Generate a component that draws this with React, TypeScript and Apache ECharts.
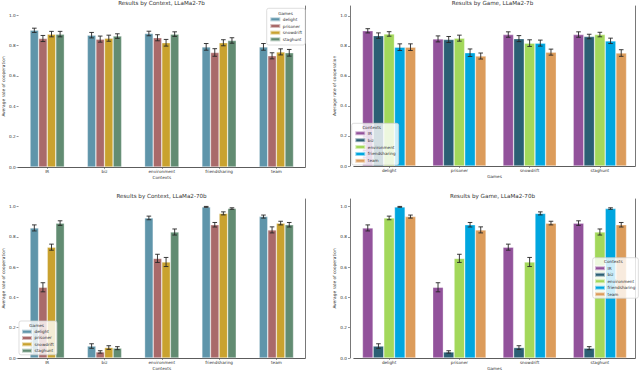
import React, { useEffect, useRef } from "react";
import * as echarts from "echarts";

const contexts = ["IR", "biz", "environment", "friendsharing", "team"];
const games = ["delight", "prisoner", "snowdrift", "staghunt"];
const yTicks = [0, 0.2, 0.4, 0.6, 0.8, 1.0];

const gameColors = ["#5f95aa", "#a96a6a", "#c9a22f", "#628c72"];
const contextColors = ["#92529b", "#2b5f74", "#a3d85b", "#00a6df", "#dc9c5b"];

// LLaMa2-7b: rows = contexts, columns = games (delight, prisoner, snowdrift, staghunt)
const rate7bIR = [0.9, 0.846, 0.875, 0.875];
const rate7bBiz = [0.868, 0.842, 0.848, 0.862];
const rate7bEnv = [0.879, 0.851, 0.818, 0.875];
const rate7bFriend = [0.791, 0.754, 0.818, 0.833];
const rate7bTeam = [0.791, 0.732, 0.758, 0.752];
const err7bIR = [0.014, 0.02, 0.018, 0.018];
const err7bBiz = [0.018, 0.02, 0.02, 0.015];
const err7bEnv = [0.015, 0.02, 0.022, 0.015];
const err7bFriend = [0.022, 0.025, 0.02, 0.018];
const err7bTeam = [0.022, 0.02, 0.02, 0.022];

// LLaMa2-70b
const rate70bIR = [0.859, 0.467, 0.732, 0.891];
const rate70bBiz = [0.079, 0.04, 0.069, 0.065];
const rate70bEnv = [0.925, 0.658, 0.634, 0.832];
const rate70bFriend = [0.998, 0.88, 0.955, 0.987];
const rate70bTeam = [0.934, 0.846, 0.891, 0.88];
const err70bIR = [0.02, 0.03, 0.02, 0.015];
const err70bBiz = [0.015, 0.008, 0.012, 0.01];
const err70bEnv = [0.012, 0.027, 0.03, 0.02];
const err70bFriend = [0.003, 0.015, 0.01, 0.005];
const err70bTeam = [0.01, 0.02, 0.012, 0.015];

const rows7b = [rate7bIR, rate7bBiz, rate7bEnv, rate7bFriend, rate7bTeam];
const errs7b = [err7bIR, err7bBiz, err7bEnv, err7bFriend, err7bTeam];
const rows70b = [rate70bIR, rate70bBiz, rate70bEnv, rate70bFriend, rate70bTeam];
const errs70b = [err70bIR, err70bBiz, err70bEnv, err70bFriend, err70bTeam];

const FONT = "DejaVu Sans";
const TXT = "#333";
const SPINE = "#555";

type Panel = {
  grid: { left: number; top: number; width: number; height: number };
  cats: string[];
  names: string[];
  colors: string[];
  val: (si: number, ci: number) => number;
  err: (si: number, ci: number) => number;
  gap: number;
  max: number;
  xName: string;
  title: string;
  yOffset: number;
  leftSpine: boolean;
  legend: { left: number; top: number; padding: number[]; lh: number; title: string; tx: number; ty: number };
};

const panels: Panel[] = [
  {
    grid: { left: 18, top: 6, width: 287, height: 161 },
    cats: contexts,
    names: games,
    colors: gameColors,
    val: (si, ci) => rows7b[ci][si],
    err: (si, ci) => errs7b[ci][si],
    gap: 0.4,
    max: 1.06,
    xName: "Contexts",
    title: "Results by Context, LLaMa2-7b",
    yOffset: 0,
    leftSpine: false,
    legend: { left: 266.7, top: 8.3, padding: [7.7, 3, 2.3, 2.6], lh: 6.67, title: "Games", tx: 285.5, ty: 13.3 },
  },
  {
    grid: { left: 354, top: 6, width: 281, height: 160 },
    cats: games,
    names: contexts,
    colors: contextColors,
    val: (si, ci) => rows7b[si][ci],
    err: (si, ci) => errs7b[si][ci],
    gap: 0.24,
    max: 1.065,
    xName: "Games",
    title: "Results by Game, LLaMa2-7b",
    yOffset: 4,
    leftSpine: true,
    legend: { left: 351.7, top: 123.3, padding: [6.5, 3, 0.7, 2.6], lh: 6.9, title: "Contexts", tx: 371.7, ty: 127.3 },
  },
  {
    grid: { left: 18, top: 199, width: 287, height: 159 },
    cats: contexts,
    names: games,
    colors: gameColors,
    val: (si, ci) => rows70b[ci][si],
    err: (si, ci) => errs70b[ci][si],
    gap: 0.4,
    max: 1.05,
    xName: "Contexts",
    title: "Results by Context, LLaMa2-70b",
    yOffset: 0,
    leftSpine: false,
    legend: { left: 19, top: 321, padding: [7.5, 3, 1, 2], lh: 6.33, title: "Games", tx: 36.7, ty: 325.7 },
  },
  {
    grid: { left: 354, top: 199, width: 281, height: 159 },
    cats: games,
    names: contexts,
    colors: contextColors,
    val: (si, ci) => rows70b[si][ci],
    err: (si, ci) => errs70b[si][ci],
    gap: 0.24,
    max: 1.05,
    xName: "Games",
    title: "Results by Game, LLaMa2-70b",
    yOffset: 4,
    leftSpine: true,
    legend: { left: 592.7, top: 257.7, padding: [7.3, 3, 0.7, 1.3], lh: 6.5, title: "Contexts", tx: 613.3, ty: 261.7 },
  },
];

function buildOption() {
  const grid: any[] = [];
  const xAxis: any[] = [];
  const yAxis: any[] = [];
  const series: any[] = [];
  const legend: any[] = [];
  const title: any[] = [];
  const graphic: any[] = [];

  panels.forEach((p, pi) => {
    grid.push({ ...p.grid, containLabel: false });
    // main x axis
    xAxis.push({
      type: "category",
      gridIndex: pi,
      data: p.cats,
      position: "bottom",
      name: p.xName,
      nameLocation: "middle",
      nameGap: 8,
      nameTextStyle: { fontFamily: FONT, fontSize: 4.2, color: TXT },
      axisLine: { show: true, lineStyle: { color: SPINE, width: 0.8 } },
      axisTick: { show: true, alignWithLabel: true, length: 2, lineStyle: { color: SPINE, width: 0.6 } },
      axisLabel: { fontFamily: FONT, fontSize: 4.2, color: TXT, margin: 2.5 },
      splitLine: { show: false },
    });
    // top spine
    xAxis.push({
      type: "category",
      gridIndex: pi,
      data: p.cats,
      position: "top",
      axisLine: { show: true, lineStyle: { color: SPINE, width: 0.8 } },
      axisTick: { show: false },
      axisLabel: { show: false },
      splitLine: { show: false },
    });
    yAxis.push({
      type: "value",
      gridIndex: pi,
      min: 0,
      max: p.max,
      interval: 0.2,
      offset: p.yOffset,
      name: "Average rate of cooperation",
      nameLocation: "middle",
      nameGap: 12,
      nameTextStyle: { fontFamily: FONT, fontSize: 4.3, color: TXT },
      axisLine: { show: p.leftSpine, lineStyle: { color: SPINE, width: 0.8 } },
      axisTick: { show: true, length: 2, lineStyle: { color: SPINE, width: 0.6 } },
      axisLabel: {
        fontFamily: FONT,
        fontSize: 4.2,
        color: TXT,
        margin: 3,
        showMaxLabel: false,
        formatter: (v: number) => (yTicks.some((t) => Math.abs(t - v) < 1e-6) ? v.toFixed(1) : ""),
      },
      splitLine: { show: false },
    });
    // right spine
    yAxis.push({
      type: "value",
      gridIndex: pi,
      min: 0,
      max: p.max,
      position: "right",
      axisLine: { show: true, lineStyle: { color: SPINE, width: 0.8 } },
      axisTick: { show: false },
      axisLabel: { show: false },
      splitLine: { show: false },
    });

    const n = p.names.length;
    const xi = pi * 2;
    const yi = pi * 2;
    p.names.forEach((name, si) => {
      series.push({
        type: "bar",
        name,
        xAxisIndex: xi,
        yAxisIndex: yi,
        data: p.cats.map((_, ci) => p.val(si, ci)),
        barGap: "0%",
        barCategoryGap: `${Math.round(p.gap * 100)}%`,
        itemStyle: { color: p.colors[si], borderColor: "rgba(255,255,255,0.55)", borderWidth: 0.6 },
        emphasis: { disabled: true },
        z: 2,
      });
    });
    p.names.forEach((name, si) => {
      series.push({
        type: "custom",
        name: name + " error",
        xAxisIndex: xi,
        yAxisIndex: yi,
        data: p.cats.map((_, ci) => [ci, p.val(si, ci), p.err(si, ci)]),
        encode: { x: 0, y: 1 },
        z: 5,
        silent: true,
        renderItem: (params: any, api: any) => {
          const cat = api.value(0);
          const v = api.value(1);
          const e = api.value(2);
          const band = api.size([1, 0])[0];
          const bw = (band * (1 - p.gap)) / n;
          const off = (si - (n - 1) / 2) * bw;
          const top = api.coord([cat, v + e]);
          const bot = api.coord([cat, v - e]);
          const x = top[0] + off;
          const cap = 2.3;
          const st = { stroke: "#262626", lineWidth: 0.9 };
          return {
            type: "group",
            children: [
              { type: "line", shape: { x1: x, y1: top[1], x2: x, y2: bot[1] }, style: st },
              { type: "line", shape: { x1: x - cap, y1: top[1], x2: x + cap, y2: top[1] }, style: st },
              { type: "line", shape: { x1: x - cap, y1: bot[1], x2: x + cap, y2: bot[1] }, style: st },
            ],
          };
        },
      });
    });

    legend.push({
      data: p.names,
      orient: "vertical",
      left: p.legend.left,
      top: p.legend.top,
      padding: p.legend.padding,
      itemGap: 0,
      itemWidth: 10,
      itemHeight: 4,
      icon: "rect",
      selectedMode: false,
      backgroundColor: "rgba(255,255,255,0.8)",
      borderColor: "#d0d0d0",
      borderWidth: 0.7,
      borderRadius: 2,
      textStyle: {
        fontFamily: FONT,
        fontSize: 4.2,
        color: TXT,
        lineHeight: p.legend.lh,
        padding: [0, 0, 0, -2.5],
      },
      z: 20,
    });

    title.push({
      text: p.title,
      left: p.grid.left + p.grid.width / 2 - p.yOffset / 2,
      top: p.grid.top - 6.5,
      textAlign: "center",
      padding: 0,
      textStyle: { fontFamily: FONT, fontSize: 5.6, color: TXT, fontWeight: "normal" },
    });

    graphic.push({
      type: "text",
      x: p.legend.tx,
      y: p.legend.ty,
      z: 100,
      style: {
        text: p.legend.title,
        fontFamily: FONT,
        fontSize: 4.2,
        fill: TXT,
        textAlign: "center",
        textVerticalAlign: "middle",
      },
    });
  });

  return {
    animation: false,
    backgroundColor: "#ffffff",
    grid,
    xAxis,
    yAxis,
    series,
    legend,
    title,
    graphic,
  };
}

export default function App() {
  const ref = useRef<HTMLDivElement>(null);
  useEffect(() => {
    if (!ref.current) return;
    const chart = echarts.init(ref.current, undefined, { renderer: "svg" });
    chart.setOption(buildOption() as any);
    return () => chart.dispose();
  }, []);
  return (
    <div
      ref={ref}
      style={{ position: "absolute", left: 0, top: 0, width: 640, height: 371, background: "#fff" }}
    />
  );
}
